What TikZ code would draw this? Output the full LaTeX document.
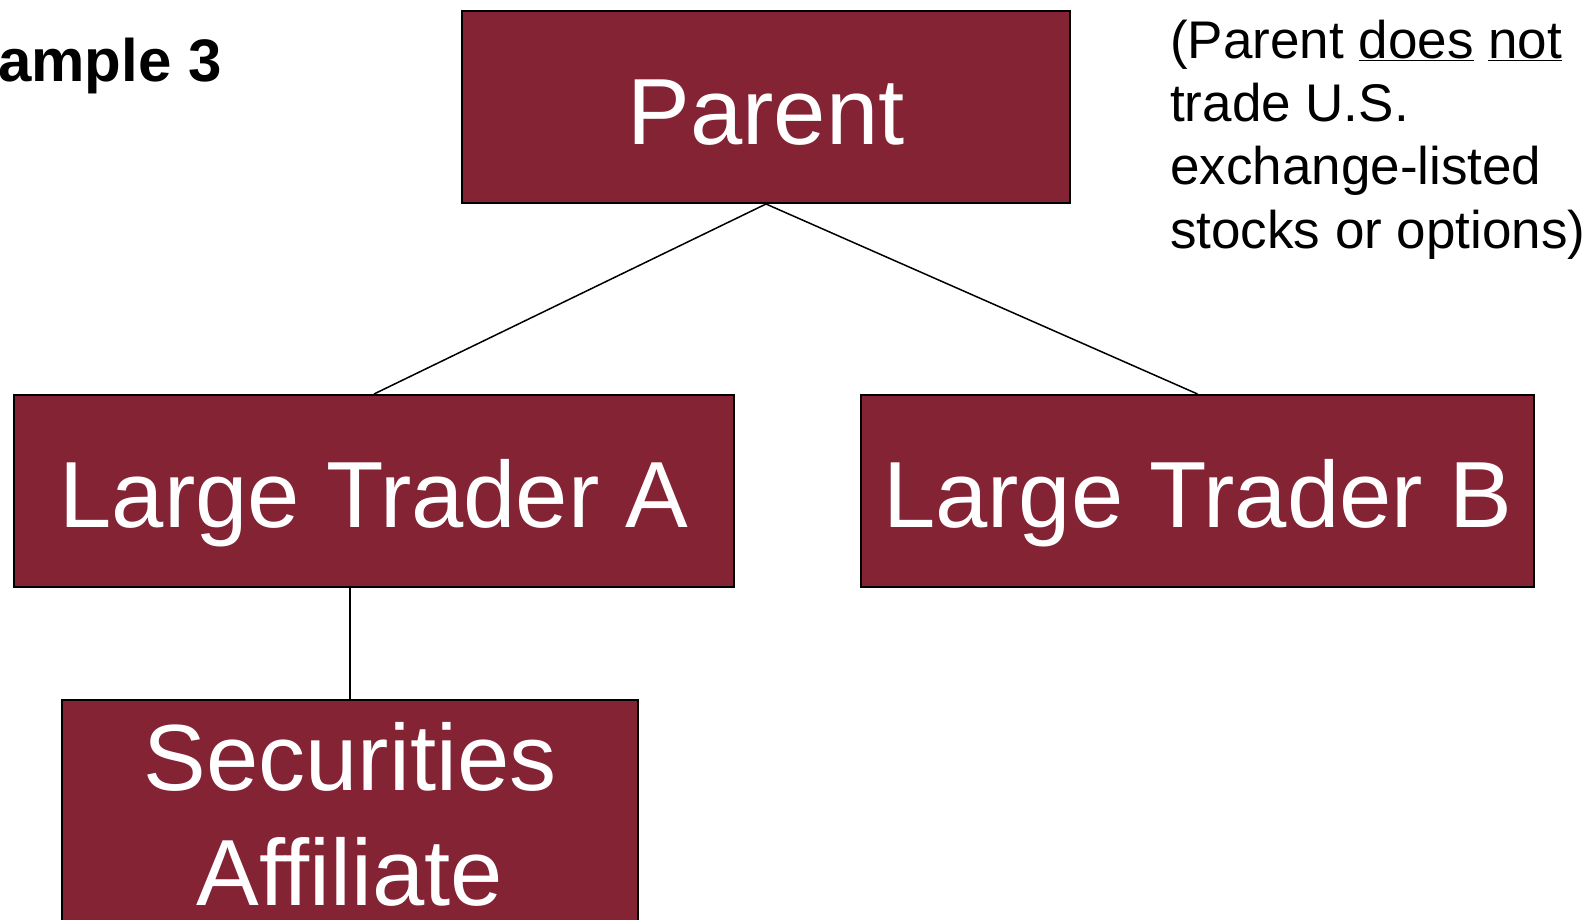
\documentclass[tikz,border=0pt]{standalone}
\usepackage{fontspec}
\setmainfont{Liberation Sans}
\definecolor{maroon}{RGB}{131,35,52}
\begin{document}
\begin{tikzpicture}[x=1pt,y=-1pt,
  box/.style={draw=black, line width=2pt, fill=maroon, text=white, inner sep=0pt,
    font=\fontsize{94}{115}\selectfont},
  conn/.style={draw=black, line width=1.5pt}]
\useasboundingbox (0,0) rectangle (1589,920);
\clip (0,0) rectangle (1589,920);
% boxes
\node[box, minimum width=608, minimum height=192, text height=76pt, text depth=0pt] (parent) at (766,107) {Parent};
\node[box, minimum width=720, minimum height=192, text height=72pt, text depth=0pt] (lta) at (374,491) {Large Trader A};
\node[box, minimum width=673, minimum height=192, text height=72pt, text depth=0pt] (ltb) at (1197.5,491) {Large Trader B};
\node[box, minimum width=576, minimum height=240, anchor=north] (sec) at (350,699) {};
\node[anchor=base, text=white, inner sep=0pt, font=\fontsize{94}{115}\selectfont] (sec1) at (350,790) {Securities};
\node[anchor=base, text=white, inner sep=0pt, font=\fontsize{94}{115}\selectfont] (sec2) at (350,905) {Affiliate};
% connectors
\draw[conn] (parent.south) -- (lta.north);
\draw[conn] (parent.south) -- (ltb.north);
\draw[conn] (sec.north) -- (sec.north |- lta.south);
% title
\node[anchor=base west, inner sep=0pt, font=\fontsize{60}{72}\selectfont\bfseries] (title) at (-2,82) {ample 3};
% note
\node[anchor=north west, inner sep=0pt, align=left, font=\fontsize{53}{63.3}\selectfont] (note) at (1170,19.5)
  {(Parent \underline{does} \underline{not}\\trade U.S.\\exchange-listed\\stocks or options)};
\end{tikzpicture}
\end{document}
